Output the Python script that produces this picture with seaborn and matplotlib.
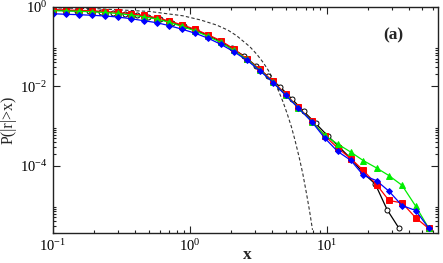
import numpy as np
import pandas as pd
import matplotlib
matplotlib.use("Agg")
import matplotlib.pyplot as plt
import matplotlib.ticker as mticker
import seaborn as sns

# ---- data ----
x_bins = [0.0995, 0.124, 0.155, 0.193, 0.238, 0.297, 0.369, 0.459, 0.571, 0.706,
          0.879, 1.094, 1.36, 1.68, 2.09, 2.61, 3.24, 4.06, 5.02, 6.21,
          7.81, 9.66, 12.0, 15.0, 18.5, 23.1, 28.5, 35.5, 44.7, 55.6]

p_blue = [0.678, 0.655, 0.640, 0.618, 0.594, 0.560, 0.508, 0.452, 0.403, 0.339,
          0.275, 0.218, 0.163, 0.115, 0.0750, 0.0456, 0.0250, 0.01246, 5.87e-3, 2.83e-3,
          1.26e-3, 4.97e-4, 2.29e-4, 1.36e-4, 5.70e-5, 4.19e-5, 2.26e-5, 9.86e-6, 7.38e-6, 2.65e-6]

p_red = [0.855, 0.840, 0.826, 0.802, 0.770, 0.727, 0.675, 0.611, 0.538, 0.444,
         0.352, 0.275, 0.198, 0.142, 0.0878, 0.0492, 0.0271, 0.01336, 6.29e-3, 2.96e-3,
         1.32e-3, 5.69e-4, 2.79e-4, 1.50e-4, 7.62e-5, 3.33e-5, 1.32e-5, 1.15e-5, 4.83e-6, 2.60e-6]

p_green = [0.807, 0.793, 0.780, 0.757, 0.727, 0.686, 0.629, 0.567, 0.499, 0.412,
           0.323, 0.249, 0.181, 0.128, 0.0805, 0.0478, 0.0257, 0.0126, 6.04e-3, 2.88e-3,
           1.28e-3, 5.78e-4, 3.52e-4, 2.19e-4, 1.34e-4, 8.75e-5, 5.60e-5, 3.19e-5, 9.46e-6, 2.65e-6]

x_black = [0.100, 0.1223, 0.1494, 0.1826, 0.2233, 0.2729, 0.3336, 0.4077, 0.4984, 0.6092,
           0.7447, 0.9103, 1.113, 1.360, 1.663, 2.032, 2.484, 3.037, 3.712, 4.537,
           5.546, 6.780, 8.287, 10.13, 12.38, 15.14, 18.50, 22.62, 27.65, 33.80]

p_black = [0.831, 0.817, 0.802, 0.784, 0.757, 0.723, 0.678, 0.622, 0.560, 0.491,
           0.401, 0.323, 0.256, 0.192, 0.138, 0.0904, 0.0585, 0.0328, 0.01786, 9.88e-3,
           4.85e-3, 2.35e-3, 1.17e-3, 5.69e-4, 2.92e-4, 1.46e-4, 6.47e-5, 3.43e-5, 7.68e-6, 2.60e-6]

# gaussian reference (dashed)
x_gauss = [0.1, 0.22, 0.51, 0.89, 1.2, 1.57, 1.9, 2.19, 2.74, 3.1, 3.43, 3.75, 4.06, 4.45,
           4.8, 5.15, 5.52, 5.84, 6.1, 6.35, 6.7, 7.11, 7.5, 7.87]
p_gauss = [0.955, 0.90, 0.77, 0.60, 0.47, 0.35, 0.26, 0.19, 0.10, 0.063, 0.040, 0.025,
           0.0150, 7.6e-3, 4.0e-3, 2.0e-3, 9.5e-4, 4.6e-4, 2.5e-4, 1.4e-4, 6.0e-5, 2.0e-5,
           7.0e-6, 2.4e-6]

x_ticks = [0.1, 1, 10]
x_tick_labels = ["10$^{-1}$", "10$^{0}$", "10$^{1}$"]
y_ticks = [1, 1e-2, 1e-4]
y_tick_labels = ["10$^{0}$", "10$^{-2}$", "10$^{-4}$"]

# ---- style ----
sns.set_style("ticks")
plt.rcParams['font.family'] = ['Liberation Serif', 'DejaVu Serif']
plt.rcParams['mathtext.default'] = 'regular'

fig = plt.figure(figsize=(4.43, 2.63), dpi=100)
ax = fig.add_axes([53 / 443, 1 - 233 / 263, 385 / 443, 226 / 263])

sns.lineplot(x=x_gauss, y=p_gauss, ax=ax, color="#333333", lw=0.8,
             linestyle=(0, (3, 2)), sort=False, estimator=None)

series = [
    (x_black, p_black, "black", "o", 3.6, "white"),
    (x_bins, p_red, "red", "s", 3.8, "red"),
    (x_bins, p_green, "#00ee00", "^", 4.0, "#00ee00"),
    (x_bins, p_blue, "blue", "D", 3.0, "blue"),
]
for xs, ys, col, mk, ms, fc in series:
    sns.lineplot(x=xs, y=ys, ax=ax, color=col, lw=0.9, marker=mk, markersize=ms,
                 markerfacecolor=fc, markeredgecolor=col, markeredgewidth=0.7,
                 sort=False, estimator=None)

ax.set_xscale("log")
ax.set_yscale("log")
ax.set_xlim(0.1, 65)
ax.set_ylim(2e-6, 1)

ax.xaxis.set_major_locator(mticker.FixedLocator(x_ticks))
ax.xaxis.set_major_formatter(mticker.FixedFormatter(x_tick_labels))
ax.xaxis.set_minor_locator(mticker.LogLocator(base=10, subs=np.arange(2, 10)))
ax.xaxis.set_minor_formatter(mticker.NullFormatter())

ax.yaxis.set_major_locator(mticker.FixedLocator(y_ticks))
ax.yaxis.set_major_formatter(mticker.FixedFormatter(y_tick_labels))
minor_y = [m * 10.0 ** e for e in (-2, -4, -6) for m in range(2, 10)]
ax.yaxis.set_minor_locator(mticker.FixedLocator(minor_y))
ax.yaxis.set_minor_formatter(mticker.NullFormatter())

ax.tick_params(which="both", direction="in", top=True, right=True, colors="#222222",
               labelcolor="black", labelsize=10.5, width=0.8)
ax.tick_params(which="major", length=5, pad=4)
ax.tick_params(which="minor", length=2.5)
for sp in ax.spines.values():
    sp.set_linewidth(1.0)
    sp.set_color("#222222")

ax.set_ylabel("P(|r|>x)", fontsize=11.5, labelpad=2)
fig.text(247 / 443, 1 - 255 / 263, "x", fontsize=12.5, fontweight="bold",
         ha="center", va="center")
ax.text(0.885, 0.876, "(a)", transform=ax.transAxes, fontsize=12.5,
        fontweight="bold", ha="center", va="center")

fig.savefig("out.png", dpi=100)
